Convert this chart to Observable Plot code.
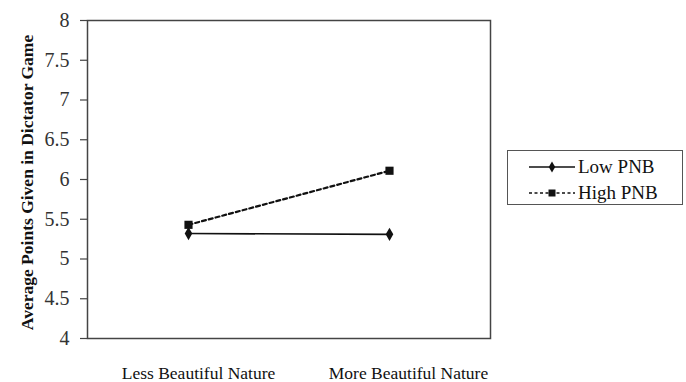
<!DOCTYPE html>
<html>
<head>
<meta charset="utf-8">
<script src="https://cdn.jsdelivr.net/npm/d3@7"></script>
<script src="https://cdn.jsdelivr.net/npm/@observablehq/plot@0.6"></script>
<style>
  html, body { margin: 0; padding: 0; background: #fff; }
  #wrap { position: relative; width: 686px; height: 382px; }
  #legend { position: absolute; left: 507px; top: 150px; width: 176px; height: 55px;
    border: 1.5px solid #555; box-sizing: border-box; font-family: "Liberation Serif", serif;
    font-size: 19px; color: #111; }
  #legend .row { position: absolute; left: 0; height: 22px; display: flex; align-items: center; }
  #legend svg { margin-left: 21px; margin-right: 3px; }
</style>
</head>
<body>
<div id="wrap"></div>
<script>
const conditions = ["Less Beautiful Nature", "More Beautiful Nature"];
const lowPNB = [5.32, 5.31];
const highPNB = [5.43, 6.11];
const seriesNames = ["Low PNB", "High PNB"];
const yTicks = [4, 4.5, 5, 5.5, 6, 6.5, 7, 7.5, 8];
const yLabel = "Average Points Given in Dictator Game";

const low = conditions.map((c, i) => ({condition: c, value: lowPNB[i]}));
const high = conditions.map((c, i) => ({condition: c, value: highPNB[i]}));

const serif = "Liberation Serif";

const chart = Plot.plot({
  width: 686,
  height: 382,
  marginLeft: 87,
  marginRight: 196,
  marginTop: 20,
  marginBottom: 44,
  style: {fontFamily: serif, background: "#fff", color: "#222"},
  x: {type: "point", domain: conditions, padding: 0.5, axis: null},
  y: {domain: [4, 8], axis: null},
  marks: [
    Plot.frame({stroke: "#444", strokeWidth: 1.5}),
    Plot.axisY(yTicks, {tickSize: 7, tickPadding: 11, fontSize: 20, fontFamily: serif, stroke: "#444", strokeWidth: 1.2, fill: "#333", label: null, tickFormat: d => String(d)}),
    Plot.axisX([conditions[0]], {tickSize: 0, tickPadding: 28, dx: 10, fontSize: 17.5, fontFamily: serif, fill: "#111", label: null}),
    Plot.axisX([conditions[1]], {tickSize: 0, tickPadding: 28, dx: 19, fontSize: 17.5, fontFamily: serif, fill: "#111", label: null}),
    Plot.text([yLabel], {frameAnchor: "left", text: d => d, rotate: -90, dx: -60, dy: 3, textAnchor: "middle", fontSize: 17.5, fontFamily: serif, fontWeight: "bold", fill: "#111"}),
    Plot.line(low, {x: "condition", y: "value", stroke: "#111", strokeWidth: 1.6}),
    Plot.line(high, {x: "condition", y: "value", stroke: "#111", strokeWidth: 2.2, strokeDasharray: "4,3"}),
    Plot.dot(low, {x: "condition", y: "value", symbol: "diamond", r: 4, fill: "#111", stroke: "none"}),
    Plot.dot(high, {x: "condition", y: "value", symbol: "square", r: 4.6, fill: "#111", stroke: "none"})
  ]
});

const wrap = document.getElementById("wrap");
wrap.appendChild(chart);

const legend = document.createElement("div");
legend.id = "legend";
const rowDefs = [
  {name: seriesNames[0], dash: null, sym: "diamond", top: 5},
  {name: seriesNames[1], dash: "3,2.5", sym: "square", top: 31}
];
for (const r of rowDefs) {
  const row = document.createElement("div");
  row.className = "row";
  row.style.top = r.top + "px";
  const ns = "http://www.w3.org/2000/svg";
  const s = document.createElementNS(ns, "svg");
  s.setAttribute("width", 46); s.setAttribute("height", 12);
  const ln = document.createElementNS(ns, "line");
  ln.setAttribute("x1", 0); ln.setAttribute("x2", 46); ln.setAttribute("y1", 6); ln.setAttribute("y2", 6);
  ln.setAttribute("stroke", "#111"); ln.setAttribute("stroke-width", 1.6);
  if (r.dash) ln.setAttribute("stroke-dasharray", r.dash);
  s.appendChild(ln);
  const p = document.createElementNS(ns, "path");
  const sym = r.sym === "diamond" ? d3.symbol(d3.symbolDiamond, 36) : d3.symbol(d3.symbolSquare, 49);
  p.setAttribute("d", sym());
  p.setAttribute("transform", "translate(23,6)");
  p.setAttribute("fill", "#111");
  s.appendChild(p);
  row.appendChild(s);
  const t = document.createElement("span");
  t.textContent = r.name;
  row.appendChild(t);
  legend.appendChild(row);
}
wrap.appendChild(legend);
</script>
</body>
</html>
